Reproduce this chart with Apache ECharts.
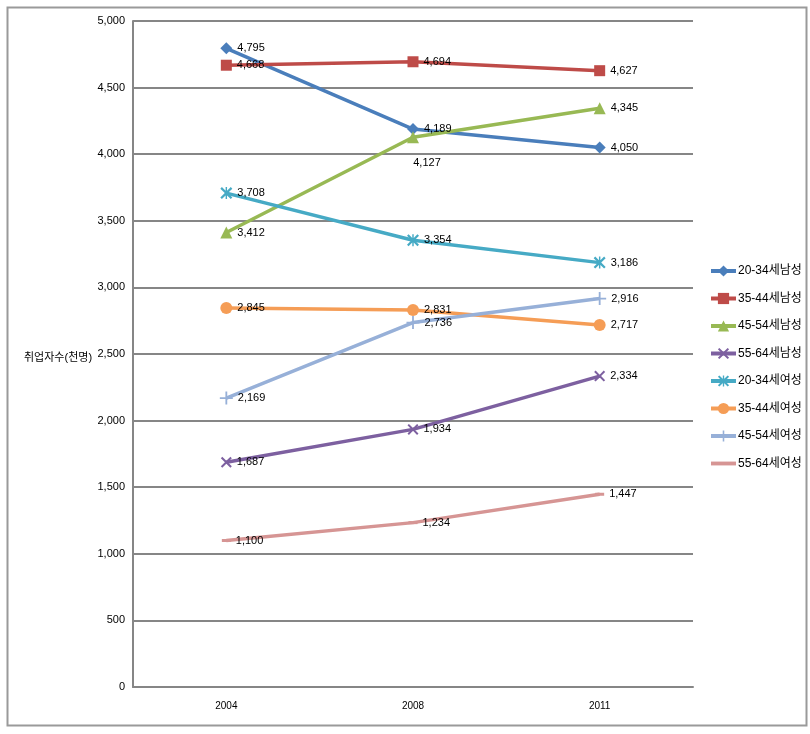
<!DOCTYPE html>
<html><head><meta charset="utf-8">
<script src="https://cdn.jsdelivr.net/npm/echarts@6/dist/echarts.min.js"></script>
<style>html,body{margin:0;padding:0;background:#fff}#c{width:810px;height:734px}</style>
</head><body><div id="c"></div>
<script>
const years = ['2004', '2008', '2011'];
const seriesNames = ['20-34세남성','35-44세남성','45-54세남성','55-64세남성','20-34세여성','35-44세여성','45-54세여성','55-64세여성'];
const m2034 = [4795, 4189, 4050];
const m3544 = [4668, 4694, 4627];
const m4554 = [3412, 4127, 4345];
const m5564 = [1687, 1934, 2334];
const f2034 = [3708, 3354, 3186];
const f3544 = [2845, 2831, 2717];
const f4554 = [2169, 2736, 2916];
const f5564 = [1100, 1234, 1447];
const yTicks = [0, 500, 1000, 1500, 2000, 2500, 3000, 3500, 4000, 4500, 5000];
const yTitle = '취업자수(천명)';

const FONT = "'Liberation Sans','Noto Sans CJK KR',sans-serif";
const colors = ['#4A7EBB','#BE4B48','#98B954','#7D60A0','#46AAC5','#F59D56','#97B0D8','#D69594'];
const xPath = 'path://M0,1.3L1.3,0L5,3.7L8.7,0L10,1.3L6.3,5L10,8.7L8.7,10L5,6.3L1.3,10L0,8.7L3.7,5Z';
const starPath = 'path://M0,1.3L1.3,0L5,3.7L8.7,0L10,1.3L6.3,5L10,8.7L8.7,10L5,6.3L1.3,10L0,8.7L3.7,5ZM4.4,0L5.6,0L5.6,10L4.4,10Z';
const plusPath = 'path://M4.3,0L5.7,0L5.7,4.3L10,4.3L10,5.7L5.7,5.7L5.7,10L4.3,10L4.3,5.7L0,5.7L0,4.3L4.3,4.3Z';
const symbols = ['diamond','rect','triangle',xPath,starPath,'circle',plusPath,'rect'];
const sizes = [12,11,12,11,12,12,13,[9,3]];
const datas = [m2034,m3544,m4554,m5564,f2034,f3544,f4554,f5564];

function fmt(v){return v.toLocaleString('en-US');}

const series = datas.map((d,i)=>({
  name: seriesNames[i],
  type: 'line',
  data: d.map((v,j)=>{
    const o = {value: v};
    if (i===2 && j===1) o.label = {position:'bottom', distance:14, offset:[14,0]};
    return o;
  }),
  symbol: symbols[i],
  symbolSize: sizes[i],
  showAllSymbol: true,
  lineStyle: {width: 3.5, color: colors[i]},
  itemStyle: {color: colors[i]},
  label: {show: true, position: 'right', distance: 5, color: '#000', fontFamily: FONT, fontSize: 11,
          formatter: p => fmt(p.value)},
  emphasis: {disabled: true},
  animation: false
}));

const legendData = seriesNames.map((n,i)=> i===7
  ? {name: n, icon: 'path://M0,4L26,4L26,8L0,8Z'}
  : {name: n});

const chart = echarts.init(document.getElementById('c'));
chart.setOption({
  backgroundColor: '#fff',
  animation: false,
  color: colors,
  grid: {left: 133, right: 117, top: 21, bottom: 47, containLabel: false},
  title: {text: yTitle, left: 19, top: 347, textStyle: {fontFamily: FONT, fontSize: 11, fontWeight: 'normal', color: '#000'}},
  legend: {
    orient: 'vertical', left: 709, top: 265, padding: 0, itemWidth: 25, itemHeight: 14, itemGap: 15.5,
    data: legendData,
    lineStyle: {width: 4},
    textStyle: {fontFamily: FONT, fontSize: 12, color: '#000', padding: [0,0,0,-3]}
  },
  xAxis: {
    type: 'category', data: years, boundaryGap: true,
    axisLine: {show: true, lineStyle: {color: '#868686', width: 2}},
    axisTick: {show: false},
    axisLabel: {color: '#000', fontFamily: FONT, fontSize: 10, margin: 14},
    splitLine: {show: false}
  },
  yAxis: {
    type: 'value', min: yTicks[0], max: yTicks[yTicks.length-1], interval: 500,
    axisLine: {show: true, lineStyle: {color: '#868686', width: 2}},
    axisTick: {show: false},
    axisLabel: {color: '#000', fontFamily: FONT, fontSize: 11, margin: 8, formatter: v => fmt(v)},
    splitLine: {show: true, lineStyle: {color: '#868686', width: 2}}
  },
  graphic: [{
    type: 'rect', left: 5, top: 5, shape: {width: 799, height: 718},
    style: {fill: null, stroke: '#9a9a9a', lineWidth: 2}, silent: true, z: -1
  }],
  series: series
});
</script></body></html>
